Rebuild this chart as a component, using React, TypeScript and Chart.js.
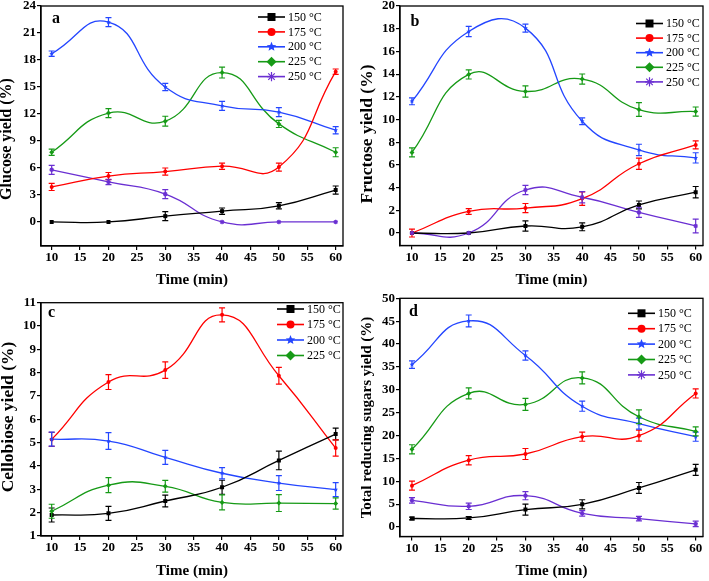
import React, { useEffect, useRef } from "react";
import { Chart, registerables } from "chart.js";

Chart.register(...registerables);

// ---------- data ----------
const times = [10, 20, 30, 40, 50, 60];
const xTicks = [10, 15, 20, 25, 30, 35, 40, 45, 50, 55, 60];
const temps = ["150 °C", "175 °C", "200 °C", "225 °C", "250 °C"];

// (a) glucose yield
const glucoseTicks = [0, 3, 6, 9, 12, 15, 18, 21, 24];
const glucose150 = [0, 0, 0.65, 1.2, 1.8, 3.55];
const glucose150Err = [0, 0, 0.5, 0.35, 0.35, 0.45];
const glucose175 = [3.9, 5.1, 5.6, 6.2, 6.1, 16.7];
const glucose175Err = [0.4, 0.4, 0.4, 0.35, 0.45, 0.3];
const glucose200 = [18.7, 22.2, 15.0, 12.9, 12.2, 10.2];
const glucose200Err = [0.3, 0.5, 0.4, 0.5, 0.5, 0.4];
const glucose225 = [7.75, 12.1, 11.2, 16.6, 10.9, 7.75];
const glucose225Err = [0.35, 0.5, 0.55, 0.6, 0.4, 0.5];
const glucose250 = [5.8, 4.45, 3.1, 0, 0, 0];
const glucose250Err = [0.5, 0.3, 0.5, 0, 0, 0];

// (b) fructose yield
const fructoseTicks = [0, 2, 4, 6, 8, 10, 12, 14, 16, 18, 20];
const fructose150 = [0, 0, 0.62, 0.55, 2.47, 3.6];
const fructose150Err = [0, 0, 0.45, 0.35, 0.35, 0.5];
const fructose175 = [0, 1.9, 2.2, 3.03, 6.1, 7.76];
const fructose175Err = [0.35, 0.25, 0.4, 0.6, 0.5, 0.35];
const fructose200 = [11.6, 17.75, 18.05, 9.85, 7.32, 6.62];
const fructose200Err = [0.3, 0.45, 0.35, 0.3, 0.5, 0.45];
const fructose225 = [7.1, 13.97, 12.47, 13.56, 10.88, 10.7];
const fructose225Err = [0.4, 0.4, 0.5, 0.45, 0.6, 0.4];
const fructose250 = [0, 0, 3.79, 3.15, 1.82, 0.62];
const fructose250Err = [0, 0, 0.4, 0.5, 0.45, 0.6];

// (c) cellobiose yield
const cellobioseTicks = [1, 2, 3, 4, 5, 6, 7, 8, 9, 10, 11];
const cellobiose150 = [1.9, 1.97, 2.5, 3.09, 4.24, 5.37];
const cellobiose150Err = [0.3, 0.3, 0.25, 0.3, 0.4, 0.25];
const cellobiose175 = [5.14, 7.6, 8.11, 10.48, 7.87, 4.77];
const cellobiose175Err = [0.3, 0.32, 0.35, 0.3, 0.36, 0.35];
const cellobiose200 = [5.15, 5.07, 4.37, 3.69, 3.27, 2.99];
const cellobiose200Err = [0.3, 0.36, 0.3, 0.24, 0.32, 0.3];
const cellobiose225 = [2.06, 3.18, 3.13, 2.44, 2.41, 2.39];
const cellobiose225Err = [0.3, 0.32, 0.25, 0.32, 0.36, 0.24];

// (d) total reducing sugars yield
const trsTicks = [0, 5, 10, 15, 20, 25, 30, 35, 40, 45, 50];
const trs150 = [1.85, 1.97, 3.8, 4.96, 8.53, 12.5];
const trs150Err = [0.3, 0.3, 1.2, 1.0, 1.2, 1.2];
const trs175 = [9.04, 14.6, 15.96, 19.75, 19.97, 29.2];
const trs175Err = [1.0, 1.0, 1.2, 1.0, 1.2, 1.0];
const trs200 = [35.5, 45.05, 37.5, 26.4, 22.6, 19.75];
const trs200Err = [0.8, 1.3, 1.0, 1.1, 1.2, 1.0];
const trs225 = [16.98, 29.2, 26.8, 32.6, 24.1, 20.9];
const trs225Err = [1.0, 1.2, 1.3, 1.3, 1.5, 1.0];
const trs250 = [5.83, 4.52, 6.85, 2.99, 1.82, 0.66];
const trs250Err = [0.6, 0.7, 0.9, 0.6, 0.5, 0.6];

// ---------- styles ----------
const COLORS = ["#000000", "#ff0000", "#2446ff", "#169a16", "#6a2fd2"];
const MARKERS = ["square", "circle", "star", "diamond", "asterisk"];
const FONT = '"Liberation Serif", "Times New Roman", serif';

type Panel = {
  left: number; top: number; w: number; h: number;
  yAxisW: number; padTop: number; padRight: number; xAxisH: number;
  xMin: number; xMax: number; yMin: number; yMax: number; yTicks: number[];
  yTitle: string; yTitleX: number; yTitleY: number; yTitleSize: number;
  xTitleY: number; letter: string; letterX: number; letterY: number;
  legX: number; legY: number; legDy: number;
  series: number[][]; errors: number[][];
};

const PANELS: Panel[] = [
  {
    left: 0, top: 0, w: 354, h: 290, yAxisW: 41, padTop: 6, padRight: 11, xAxisH: 44,
    xMin: 8.12, xMax: 61.29, yMin: -2.67, yMax: 24, yTicks: glucoseTicks,
    yTitle: "Glucose yield (%)", yTitleX: 7, yTitleY: 139, yTitleSize: 16,
    xTitleY: 280, letter: "a", letterX: 52, letterY: 23,
    legX: 258, legY: 17, legDy: 14.9,
    series: [glucose150, glucose175, glucose200, glucose225, glucose250],
    errors: [glucose150Err, glucose175Err, glucose200Err, glucose225Err, glucose250Err],
  },
  {
    left: 354, top: 0, w: 355, h: 290, yAxisW: 46, padTop: 6, padRight: 6, xAxisH: 44.5,
    xMin: 7.89, xMax: 61.29, yMin: -1.1, yMax: 20, yTicks: fructoseTicks,
    yTitle: "Fructose yield (%)", yTitleX: 13, yTitleY: 134, yTitleSize: 17.5,
    xTitleY: 280, letter: "b", letterX: 56.5, letterY: 26,
    legX: 282, legY: 23.5, legDy: 14.6,
    series: [fructose150, fructose175, fructose200, fructose225, fructose250],
    errors: [fructose150Err, fructose175Err, fructose200Err, fructose225Err, fructose250Err],
  },
  {
    left: 0, top: 290, w: 354, h: 291, yAxisW: 41, padTop: 12.7, padRight: 11, xAxisH: 45,
    xMin: 8.12, xMax: 61.29, yMin: 1, yMax: 11, yTicks: cellobioseTicks,
    yTitle: "Cellobiose yield (%)", yTitleX: 8, yTitleY: 127, yTitleSize: 17.5,
    xTitleY: 281.5, letter: "c", letterX: 48, letterY: 27,
    legX: 277, legY: 19, legDy: 15.5,
    series: [cellobiose150, cellobiose175, cellobiose200, cellobiose225],
    errors: [cellobiose150Err, cellobiose175Err, cellobiose200Err, cellobiose225Err],
  },
  {
    left: 354, top: 290, w: 355, h: 291, yAxisW: 46, padTop: 8.3, padRight: 6, xAxisH: 44.5,
    xMin: 7.89, xMax: 61.29, yMin: -2.08, yMax: 50, yTicks: trsTicks,
    yTitle: "Total reducing sugars yield (%)", yTitleX: 13.5, yTitleY: 127.5, yTitleSize: 15,
    xTitleY: 281, letter: "d", letterX: 55, letterY: 26,
    legX: 274, legY: 23.3, legDy: 15.4,
    series: [trs150, trs175, trs200, trs225, trs250],
    errors: [trs150Err, trs175Err, trs200Err, trs225Err, trs250Err],
  },
];

function drawMarker(ctx: CanvasRenderingContext2D, style: string, x: number, y: number, r: number, color: string) {
  ctx.save();
  ctx.fillStyle = color;
  ctx.strokeStyle = color;
  ctx.lineWidth = 1.2;
  ctx.beginPath();
  if (style === "square") {
    ctx.rect(x - r, y - r, 2 * r, 2 * r);
    ctx.fill();
  } else if (style === "circle") {
    ctx.arc(x, y, r, 0, Math.PI * 2);
    ctx.fill();
  } else if (style === "star") {
    const R = r * 1.25;
    const ri = R * 0.45;
    for (let k = 0; k < 10; k++) {
      const a = -Math.PI / 2 + (k * Math.PI) / 5;
      const rr = k % 2 === 0 ? R : ri;
      const px = x + rr * Math.cos(a);
      const py = y + rr * Math.sin(a);
      if (k === 0) ctx.moveTo(px, py);
      else ctx.lineTo(px, py);
    }
    ctx.closePath();
    ctx.fill();
  } else if (style === "diamond") {
    const R = r * 1.25;
    ctx.moveTo(x, y - R);
    ctx.lineTo(x + R, y);
    ctx.lineTo(x, y + R);
    ctx.lineTo(x - R, y);
    ctx.closePath();
    ctx.fill();
  } else {
    const R = r * 1.15;
    for (let k = 0; k < 4; k++) {
      const a = (k * Math.PI) / 4;
      ctx.moveTo(x - R * Math.cos(a), y - R * Math.sin(a));
      ctx.lineTo(x + R * Math.cos(a), y + R * Math.sin(a));
    }
    ctx.stroke();
  }
  ctx.restore();
}

function PanelChart({ p }: { p: Panel }) {
  const ref = useRef<HTMLCanvasElement | null>(null);

  useEffect(() => {
    if (!ref.current) return;
    const datasets = p.series.map((vals, i) => ({
      label: temps[i],
      data: times.map((t, j) => ({ x: t, y: vals[j] })),
      borderColor: COLORS[i],
      backgroundColor: COLORS[i],
      borderWidth: 1.3,
      tension: 0.5,
      pointRadius: 0,
      errors: p.errors[i],
    }));

    const decor = {
      id: "decor" + p.letter,
      afterDatasetsDraw(chart: any) {
        const ctx: CanvasRenderingContext2D = chart.ctx;
        const ys = chart.scales.y;
        const area = chart.chartArea;
        ctx.save();
        ctx.beginPath();
        ctx.rect(area.left, area.top, area.right - area.left, area.bottom - area.top);
        ctx.clip();
        chart.data.datasets.forEach((ds: any, i: number) => {
          const meta = chart.getDatasetMeta(i);
          meta.data.forEach((pt: any, j: number) => {
            const e = ds.errors[j];
            const v = ds.data[j].y;
            if (e) {
              const y1 = ys.getPixelForValue(v + e);
              const y2 = ys.getPixelForValue(v - e);
              ctx.save();
              ctx.strokeStyle = ds.borderColor;
              ctx.lineWidth = 1.2;
              ctx.beginPath();
              ctx.moveTo(pt.x, y1); ctx.lineTo(pt.x, y2);
              ctx.moveTo(pt.x - 3, y1); ctx.lineTo(pt.x + 3, y1);
              ctx.moveTo(pt.x - 3, y2); ctx.lineTo(pt.x + 3, y2);
              ctx.stroke();
              ctx.restore();
            }
            drawMarker(ctx, MARKERS[i], pt.x, pt.y, 2, ds.borderColor);
          });
        });
        ctx.restore();
      },
      afterDraw(chart: any) {
        const ctx: CanvasRenderingContext2D = chart.ctx;
        const area = chart.chartArea;
        ctx.save();
        // frame
        ctx.strokeStyle = "#000";
        ctx.lineWidth = 1.3;
        ctx.strokeRect(area.left, area.top, area.right - area.left, area.bottom - area.top);
        // legend
        chart.data.datasets.forEach((ds: any, i: number) => {
          const y = p.legY + i * p.legDy;
          ctx.strokeStyle = ds.borderColor;
          ctx.lineWidth = 1.6;
          ctx.beginPath();
          ctx.moveTo(p.legX, y);
          ctx.lineTo(p.legX + 27, y);
          ctx.stroke();
          drawMarker(ctx, MARKERS[i], p.legX + 13.5, y, 4, ds.borderColor);
          ctx.fillStyle = "#000";
          ctx.font = `12px ${FONT}`;
          ctx.textAlign = "left";
          ctx.textBaseline = "middle";
          ctx.fillText(ds.label, p.legX + 30, y + 0.5);
        });
        // panel letter
        ctx.fillStyle = "#000";
        ctx.font = `bold 16px ${FONT}`;
        ctx.textAlign = "left";
        ctx.textBaseline = "alphabetic";
        ctx.fillText(p.letter, p.letterX, p.letterY);
        // x title
        ctx.font = `bold 15px ${FONT}`;
        ctx.textAlign = "center";
        ctx.textBaseline = "middle";
        ctx.fillText("Time (min)", (area.left + area.right) / 2, p.xTitleY);
        // y title
        ctx.translate(p.yTitleX, p.yTitleY);
        ctx.rotate(-Math.PI / 2);
        ctx.font = `bold ${p.yTitleSize}px ${FONT}`;
        ctx.fillText(p.yTitle, 0, 0);
        ctx.restore();
      },
    };

    const tickFont = { family: FONT, size: 13, weight: "bold" as const };
    const chart = new Chart(ref.current, {
      type: "line",
      data: { datasets: datasets as any },
      options: {
        responsive: false,
        animation: false,
        devicePixelRatio: 1,
        layout: { padding: { top: p.padTop, right: p.padRight, left: 0, bottom: 0 } },
        plugins: { legend: { display: false }, tooltip: { enabled: false } },
        scales: {
          x: {
            type: "linear",
            min: p.xMin,
            max: p.xMax,
            afterBuildTicks: (s: any) => {
              s.ticks = xTicks.map((v) => ({ value: v }));
            },
            afterFit: (s: any) => {
              s.height = p.xAxisH;
              s.paddingLeft = 0;
              s.paddingRight = 0;
            },
            grid: { drawOnChartArea: false, drawTicks: true, tickLength: 4, color: "#000", lineWidth: 1.2 },
            border: { display: true, color: "#000", width: 1.3 },
            ticks: { color: "#000", font: tickFont, padding: 0, maxRotation: 0, autoSkip: false },
          },
          y: {
            type: "linear",
            min: p.yMin,
            max: p.yMax,
            afterBuildTicks: (s: any) => {
              s.ticks = p.yTicks.map((v) => ({ value: v }));
            },
            afterFit: (s: any) => {
              s.width = p.yAxisW;
              s.paddingTop = 0;
              s.paddingBottom = 0;
            },
            grid: { drawOnChartArea: false, drawTicks: true, tickLength: 4, color: "#000", lineWidth: 1.2 },
            border: { display: true, color: "#000", width: 1.3 },
            ticks: { color: "#000", font: tickFont, padding: 1, autoSkip: false },
          },
        },
      },
      plugins: [decor],
    });
    return () => chart.destroy();
  }, [p]);

  return (
    <canvas
      ref={ref}
      width={p.w}
      height={p.h}
      style={{ position: "absolute", left: p.left, top: p.top, width: p.w, height: p.h }}
    />
  );
}

export default function App() {
  return (
    <div style={{ position: "absolute", left: 0, top: 0, width: 709, height: 581, background: "#fff" }}>
      {PANELS.map((p) => (
        <PanelChart key={p.letter} p={p} />
      ))}
    </div>
  );
}
